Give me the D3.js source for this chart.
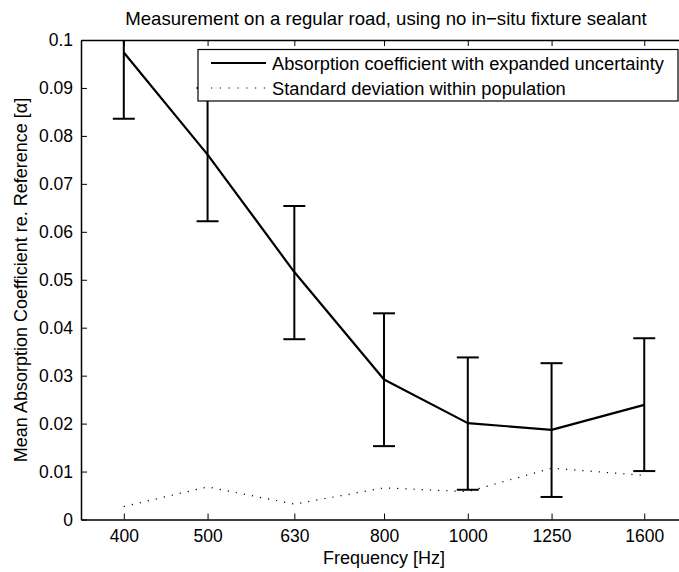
<!DOCTYPE html>
<html>
<head>
<meta charset="utf-8">
<script src="https://cdn.jsdelivr.net/npm/d3@7"></script>
<style>
body { margin: 0; background: #fff; }
text { font-family: "Liberation Sans", Arial, sans-serif; fill: #000; }
</style>
</head>
<body>
<div id="div_svg"></div>
<script>
// frequency bands (Hz)
var freqs = [400, 500, 630, 800, 1000, 1250, 1600];
var tickLabels = ["400", "500", "630", "800", "1000", "1250", "1600"];
// mean absorption coefficient and expanded uncertainty limits
var meanAbs = [0.0974, 0.0761, 0.0516, 0.0292, 0.0201, 0.0187, 0.0239];
var upperAbs = [0.1112, 0.0900, 0.0654, 0.0430, 0.0338, 0.0326, 0.0378];
var lowerAbs = [0.0836, 0.0622, 0.0376, 0.0153, 0.0062, 0.0047, 0.0101];
// standard deviation within population
var stdDev = [0.0027, 0.0068, 0.0032, 0.0066, 0.0058, 0.0107, 0.0092];
var yTicks = [0, 0.01, 0.02, 0.03, 0.04, 0.05, 0.06, 0.07, 0.08, 0.09, 0.1];

var W = 679, H = 572;
var pLeft = 81, pRight = 687, pTop = 40, pBottom = 519.5;

var x = d3.scaleLog().domain([356.9, 1793]).range([pLeft, pRight]);
var y = d3.scaleLinear().domain([0, 0.1]).range([pBottom, pTop]);

var svg = d3.select("#div_svg").append("svg").attr("id", "svg")
		.attr("width", W).attr("height", H);

svg.append("defs").append("clipPath").attr("id", "clip")
		.append("rect").attr("x", pLeft).attr("y", pTop)
		.attr("width", pRight - pLeft).attr("height", pBottom - pTop);

var plot = svg.append("g").attr("clip-path", "url(#clip)");

// dotted std dev line
var line = d3.line().x(function(d, i) { return x(freqs[i]); })
		.y(function(d) { return y(d); });
plot.append("path").attr("d", line(stdDev)).style("fill", "none")
		.style("stroke", "#000").style("stroke-width", 1.2)
		.style("stroke-dasharray", "1.2,7");

// error bars
var capW = 11;
freqs.forEach(function(f, i) {
	var cx = x(f);
	plot.append("line").attr("x1", cx).attr("x2", cx)
			.attr("y1", y(upperAbs[i])).attr("y2", y(lowerAbs[i]))
			.style("stroke", "#000").style("stroke-width", 2);
	[upperAbs[i], lowerAbs[i]].forEach(function(v) {
		plot.append("line").attr("x1", cx - capW).attr("x2", cx + capW)
				.attr("y1", y(v)).attr("y2", y(v))
				.style("stroke", "#000").style("stroke-width", 2);
	});
});

// mean line
plot.append("path").attr("d", line(meanAbs)).style("fill", "none")
		.style("stroke", "#000").style("stroke-width", 2.2)
		.style("stroke-linejoin", "round");

// axes
var xAxis = d3.axisBottom(x).tickValues(freqs)
		.tickFormat(function(d, i) { return tickLabels[i]; })
		.tickSizeInner(-6).tickSizeOuter(0).tickPadding(14);
var gx = svg.append("g").attr("transform", "translate(0," + pBottom + ")").call(xAxis);
var gxTop = svg.append("g").attr("transform", "translate(0," + pTop + ")")
		.call(d3.axisTop(x).tickValues(freqs).tickFormat("").tickSizeInner(-6).tickSizeOuter(0));

var yAxis = d3.axisLeft(y).tickValues(yTicks).tickFormat(function(d) { return d === 0 ? "0" : d3.format(".2~f")(d); })
		.tickSizeInner(-6).tickSizeOuter(0).tickPadding(14);
var gy = svg.append("g").attr("transform", "translate(" + pLeft + ",0)").call(yAxis);
var gyR = svg.append("g").attr("transform", "translate(" + pRight + ",0)")
		.call(d3.axisRight(y).tickValues(yTicks).tickFormat("").tickSizeInner(-6).tickSizeOuter(0));

[gx, gxTop, gy, gyR].forEach(function(g) {
	g.select(".domain").style("stroke", "#000").style("stroke-width", 1.5);
	g.selectAll(".tick line").style("stroke", "#000").style("stroke-width", 1);
	g.selectAll("text").style("font-size", "17.5px").style("font-family", "Liberation Sans, Arial, sans-serif")
			.attr("fill", "#000");
});
gy.selectAll("text").attr("x", -8);
gx.selectAll("text").attr("y", 10);

// labels
svg.append("text").attr("x", 386).attr("y", 25).attr("text-anchor", "middle")
		.style("font-size", "18.6px").text("Measurement on a regular road, using no in\u2212situ fixture sealant");
svg.append("text").attr("x", 384).attr("y", 564).attr("text-anchor", "middle")
		.style("font-size", "18px").text("Frequency [Hz]");
svg.append("text").attr("transform", "translate(27,280) rotate(-90)")
		.attr("text-anchor", "middle").style("font-size", "18px")
		.text("Mean Absorption Coefficient re. Reference [\u03b1]");

// legend
var leg = svg.append("g");
leg.append("rect").attr("x", 198).attr("y", 49.5).attr("width", 480).attr("height", 51.5)
		.style("fill", "#fff").style("stroke", "#000").style("stroke-width", 1.2);
leg.append("line").attr("x1", 211).attr("x2", 266).attr("y1", 63).attr("y2", 63)
		.style("stroke", "#000").style("stroke-width", 2.2);
leg.append("line").attr("x1", 211).attr("x2", 266).attr("y1", 88).attr("y2", 88)
		.style("stroke", "#000").style("stroke-width", 1.2).style("stroke-dasharray", "1.2,7.6");
leg.append("text").attr("x", 272).attr("y", 69.5).style("font-size", "18.3px")
		.text("Absorption coefficient with expanded uncertainty");
leg.append("text").attr("x", 272).attr("y", 94.5).style("font-size", "18.3px")
		.text("Standard deviation within population");
</script>
</body>
</html>
